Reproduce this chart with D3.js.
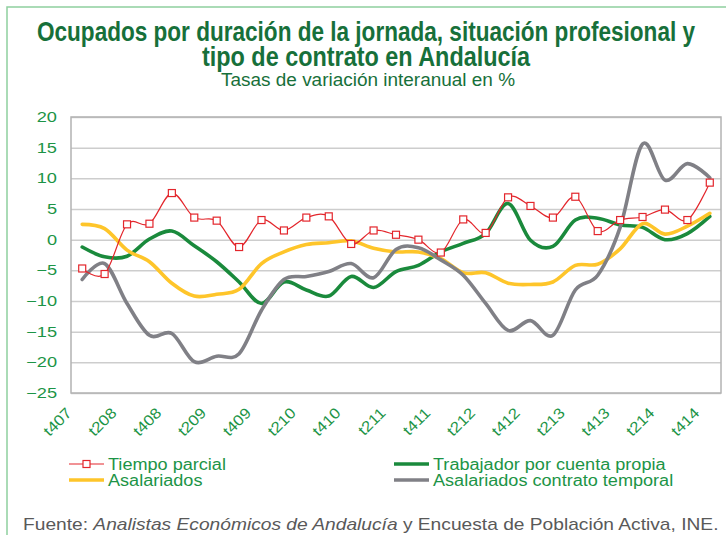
<!DOCTYPE html>
<html>
<head>
<meta charset="utf-8">
<script src="https://cdn.jsdelivr.net/npm/d3@7"></script>
<style>
  body { margin: 0; background: #fff; }
  svg { display: block; font-family: 'Liberation Sans', Arial, sans-serif; }
</style>
</head>
<body>
<div id="chart"></div>
<script>
// quarters t407 .. t414
const quarters = [
  't407', 't108', 't208', 't308', 't408', 't109', 't209', 't309', 't409',
  't110', 't210', 't310', 't410', 't111', 't211', 't311', 't411',
  't112', 't212', 't312', 't412', 't113', 't213', 't313', 't413',
  't114', 't214', 't314', 't414'
];
const xTickLabels = ['t407', 't208', 't408', 't209', 't409', 't210', 't410', 't211',
  't411', 't212', 't412', 't213', 't413', 't214', 't414'];
const yTicks = [-25, -20, -15, -10, -5, 0, 5, 10, 15, 20];

const tiempoParcial = [-4.7, -5.6, 2.5, 2.6, 7.6, 3.6, 3.1, -1.2, 3.2, 1.5, 3.6, 3.8, -0.7, 1.5,
  0.8, 0.0, -2.1, 3.3, 1.1, 6.9, 5.5, 3.6, 7.0, 1.4, 3.2, 3.7, 4.9, 3.2, 9.3];
const cuentaPropia = [-1.2, -2.8, -2.7, 0.1, 1.4, -1.0, -3.6, -6.9, -10.4, -6.9, -8.2, -9.2, -6.0,
  -7.8, -5.2, -4.2, -2.0, -0.6, 1.0, 5.9, -0.1, -1.1, 3.2, 3.5, 2.4, 2.0, 0.0, 1.0, 3.8];
const asalariados = [2.5, 1.8, -1.7, -3.6, -7.1, -9.2, -8.9, -8.1, -3.9, -2.0, -0.8, -0.5, -0.2,
  -1.4, -2.0, -2.0, -3.1, -5.4, -5.4, -7.1, -7.3, -6.9, -4.2, -4.0, -1.5, 2.6, 0.9, 2.2, 4.3];
const contratoTemporal = [-6.5, -3.9, -10.4, -15.6, -15.3, -19.9, -19.0, -18.6, -11.5, -6.5, -6.0,
  -5.2, -3.9, -6.2, -1.6, -1.3, -3.3, -5.8, -10.4, -14.8, -13.2, -15.6, -8.2, -5.8, 2.0, 15.6,
  9.7, 12.4, 10.1];

const svgWidth = 726;
const svgHeight = 535;
const plot = { left: 71, right: 721, top: 117, bottom: 393 };

const green = '#1c9446';
const darkGreen = '#17703a';

const svg = d3.select('#chart').append('svg')
  .attr('width', svgWidth)
  .attr('height', svgHeight)
;

// make text wider, like the (stretched) original
function stretch(sel, k) {
  sel.each(function() {
    const w = this.getComputedTextLength();
    d3.select(this)
      .attr('textLength', w * k)
      .attr('lengthAdjust', 'spacingAndGlyphs');
  });
}

// outer frame
svg.append('rect')
  .attr('x', 7)
  .attr('y', 7)
  .attr('width', svgWidth + 10)
  .attr('height', svgHeight + 10)
  .attr('fill', 'none')
  .attr('stroke', '#8fcf9f')
  .attr('stroke-width', 1.5)
;

// titles
const titles = [
  { text: 'Ocupados por duración de la jornada, situación profesional y', y: 41, len: 658 },
  { text: 'tipo de contrato en Andalucía', y: 66, len: 328 },
];
titles.forEach(t => {
  svg.append('text')
    .attr('x', 366)
    .attr('y', t.y)
    .attr('text-anchor', 'middle')
    .attr('font-size', 28)
    .attr('font-weight', 'bold')
    .attr('fill', darkGreen)
    .attr('textLength', t.len)
    .attr('lengthAdjust', 'spacingAndGlyphs')
    .text(t.text);
});
svg.append('text')
  .attr('x', 368)
  .attr('y', 86)
  .attr('text-anchor', 'middle')
  .attr('font-size', 17.5)
  .attr('fill', darkGreen)
  .attr('textLength', 294)
  .attr('lengthAdjust', 'spacingAndGlyphs')
  .text('Tasas de variación interanual en %');

const x = d3.scalePoint()
  .domain(quarters)
  .range([plot.left, plot.right])
  .padding(0.5)
;
const y = d3.scaleLinear()
  .domain([-25, 20])
  .range([plot.bottom, plot.top])
;

// grid
svg.append('g')
  .attr('class', 'grid')
  .attr('transform', `translate(${ plot.left },0)`)
  .call(
    d3.axisLeft(y)
      .tickValues(yTicks)
      .tickSize(-(plot.right - plot.left))
      .tickFormat('')
  )
  .call(g => g.select('.domain').remove())
  .call(g => g.selectAll('line')
    .attr('stroke', '#cdcdcd')
    .attr('stroke-width', 1.5))
;

svg.append('rect')
  .attr('x', plot.left)
  .attr('y', plot.top)
  .attr('width', plot.right - plot.left)
  .attr('height', plot.bottom - plot.top)
  .attr('fill', 'none')
  .attr('stroke', '#b3b3b3')
  .attr('stroke-width', 1.5)
;

// y axis labels
svg.append('g')
  .attr('transform', `translate(${ plot.left },0)`)
  .call(
    d3.axisLeft(y)
      .tickValues(yTicks)
      .tickSize(0)
      .tickPadding(14)
  )
  .call(g => g.select('.domain').remove())
  .call(g => g.selectAll('text')
    .attr('font-family', null)
    .attr('font-size', 14)
    .attr('fill', green)
    .call(stretch, 1.3))
;

// x axis labels
svg.append('g')
  .attr('transform', `translate(0,${ plot.bottom })`)
  .call(
    d3.axisBottom(x)
      .tickValues(xTickLabels)
      .tickSize(0)
  )
  .call(g => g.select('.domain').remove())
  .call(g => g.selectAll('text')
    .attr('font-family', null)
    .attr('font-size', 15)
    .attr('fill', green)
    .attr('x', 0)
    .attr('y', 0)
    .attr('dy', 0)
    .attr('text-anchor', 'end')
    .attr('transform', 'translate(-10,21) rotate(-45)')
    .call(stretch, 1.12))
;

const line = d3.line()
  .x((d, i) => x(quarters[i]))
  .y(d => y(d))
  .curve(d3.curveCatmullRom.alpha(0))
;

const series = [
  { name: 'Trabajador por cuenta propia', values: cuentaPropia, color: '#1a8a3c', width: 3.6 },
  { name: 'Asalariados', values: asalariados, color: '#fec52a', width: 3.6 },
  { name: 'Asalariados contrato temporal', values: contratoTemporal, color: '#808086', width: 3.6 },
  { name: 'Tiempo parcial', values: tiempoParcial, color: '#e3262c', width: 1.2 },
];

series.forEach(s => {
  svg.append('path')
    .datum(s.values)
    .attr('fill', 'none')
    .attr('stroke', s.color)
    .attr('stroke-width', s.width)
    .attr('stroke-linejoin', 'round')
    .attr('stroke-linecap', 'round')
    .attr('d', line)
  ;
});

// markers for tiempo parcial
svg.append('g')
  .selectAll('rect')
  .data(tiempoParcial)
  .join('rect')
  .attr('x', (d, i) => x(quarters[i]) - 3.5)
  .attr('y', d => y(d) - 3.5)
  .attr('width', 7)
  .attr('height', 7)
  .attr('fill', '#fff')
  .attr('stroke', '#e3262c')
  .attr('stroke-width', 1.2)
;

// legend
const legendItems = [
  { name: 'Tiempo parcial', color: '#e3262c', width: 1.2, marker: true, x: 69, y: 464 },
  { name: 'Asalariados', color: '#fec52a', width: 3.6, marker: false, x: 69, y: 480 },
  { name: 'Trabajador por cuenta propia', color: '#1a8a3c', width: 3.6, marker: false, x: 394, y: 464 },
  { name: 'Asalariados contrato temporal', color: '#808086', width: 3.6, marker: false, x: 394, y: 480 },
];

const legend = svg.append('g').attr('class', 'legend');

legendItems.forEach(d => {
  const item = legend.append('g')
    .attr('transform', `translate(${ d.x },${ d.y })`);

  item.append('line')
    .attr('x1', 0)
    .attr('x2', 35)
    .attr('stroke', d.color)
    .attr('stroke-width', d.width);

  if (d.marker) {
    item.append('rect')
      .attr('x', 14)
      .attr('y', -3.5)
      .attr('width', 7)
      .attr('height', 7)
      .attr('fill', '#fff')
      .attr('stroke', d.color)
      .attr('stroke-width', 1.2);
  }

  item.append('text')
    .attr('x', 39)
    .attr('y', 6)
    .attr('font-size', 16)
    .attr('fill', green)
    .text(d.name)
    .call(stretch, 1.13);
});

// source
const footer = svg.append('g');
const footerText = footer.append('text')
  .attr('x', 0)
  .attr('y', 0)
  .attr('font-size', 16)
  .attr('fill', '#595959');
footerText.append('tspan').text('Fuente: ');
footerText.append('tspan').attr('font-style', 'italic').text('Analistas Económicos de Andalucía');
footerText.append('tspan').text(' y Encuesta de Población Activa, INE.');

const fw = footerText.node().getComputedTextLength();
footer.attr('transform', `translate(23,530) scale(${ 696 / fw },1)`);
</script>
</body>
</html>
